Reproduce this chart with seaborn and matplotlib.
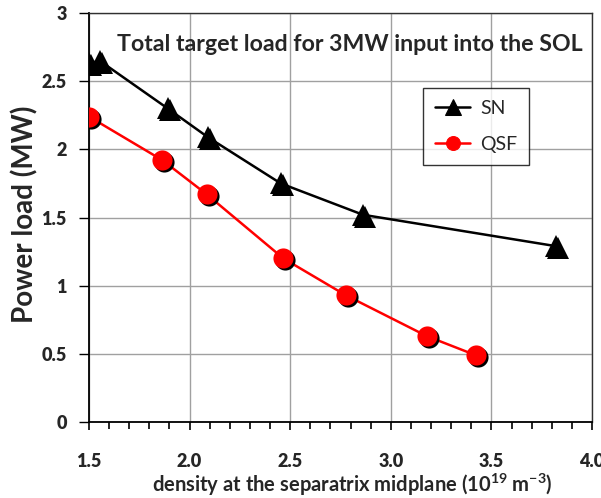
import matplotlib
matplotlib.use("Agg")
import matplotlib.pyplot as plt
import matplotlib.transforms as mtransforms
from matplotlib.ticker import MultipleLocator
import seaborn as sns
import pandas as pd

# Separatrix midplane density (1e19 m^-3) and total target power load (MW)
sn_density = [1.50, 1.553, 1.891, 2.090, 2.453, 2.862, 3.82]
sn_load = [2.63, 2.65, 2.30, 2.09, 1.75, 1.52, 1.29]
qsf_density = [1.50, 1.865, 2.085, 2.466, 2.776, 3.179, 3.422]
qsf_load = [2.24, 1.92, 1.67, 1.20, 0.93, 0.63, 0.49]

x_ticks = [1.5, 2.0, 2.5, 3.0, 3.5, 4.0]
y_ticks = [0, 0.5, 1, 1.5, 2, 2.5, 3]
y_tick_labels = ["0", "0.5", "1", "1.5", "2", "2.5", "3"]

sns.set_theme(style="white")
plt.rcParams["font.family"] = ["Lato", "DejaVu Sans"]
plt.rcParams["mathtext.default"] = "regular"

fig = plt.figure(figsize=(6.01, 4.98), dpi=100)
ax = fig.add_axes([0.1481, 0.1526, 0.8369, 0.8213])

shadow = mtransforms.offset_copy(ax.transData, fig=fig, x=2, y=-2, units="dots")

series = [
    ("SN", sn_density, sn_load, "black", "^", 16),
    ("QSF", qsf_density, qsf_load, "#ff0000", "o", 14.5),
]
for name, xs, ys, color, marker, ms in series:
    df = pd.DataFrame({"density": xs, "load": ys})
    sns.lineplot(data=df, x="density", y="load", ax=ax, color=color, lw=1.8,
                 estimator=None, sort=False, label=name, zorder=3)
    # marker drop shadows, then the markers themselves
    ax.plot(xs, ys, ls="none", marker=marker, ms=ms, color="black",
            mec="black", mew=0, transform=shadow, zorder=4)
    ax.plot(xs, ys, ls="none", marker=marker, ms=ms, color=color,
            mec=color, mew=0, zorder=5)

ax.set_xlim(1.5, 4.0)
ax.set_ylim(0, 3)
ax.set_xticks(x_ticks)
ax.set_xticklabels([f"{v:.1f}" for v in x_ticks], fontweight="heavy", fontsize=13)
ax.set_yticks(y_ticks)
ax.set_yticklabels(y_tick_labels, fontweight="heavy", fontsize=13)
ax.xaxis.set_minor_locator(MultipleLocator(0.1))

ax.grid(True, which="major", color="#a0a0a0", lw=1)
for side in ["left", "bottom"]:
    ax.spines[side].set_color("black")
    ax.spines[side].set_linewidth(1.3)
for side in ["top", "right"]:
    ax.spines[side].set_color("#303030")
    ax.spines[side].set_linewidth(1.0)

ax.tick_params(axis="x", which="major", direction="out", length=6, width=1.2,
               color="black", bottom=True, pad=16)
ax.tick_params(axis="x", which="minor", direction="out", length=5, width=1.2,
               color="black", bottom=True)
ax.tick_params(axis="y", which="major", direction="out", length=7, width=1.0,
               color="black", left=True, pad=9)

ax.set_xlabel(r"density at the separatrix midplane (10$^{19}$ m$^{-3}$)",
              fontweight="bold", fontsize=14.5)
ax.xaxis.set_label_coords(0.523, -0.122)
ax.set_ylabel("Power load (MW)", fontweight="bold", fontsize=20)
ax.yaxis.set_label_coords(-0.101, 0.508)

ax.text(0.981, 0.924, "Total target load for 3MW input into the SOL",
        transform=ax.transAxes, ha="right", va="center",
        fontweight="bold", fontsize=16.7)

# legend with line + marker handles
handles, labels = ax.get_legend_handles_labels()
for h, (_, _, _, color, marker, _) in zip(handles, series):
    h.set_marker(marker)
    h.set_markersize(11 if marker == "^" else 10)
    h.set_markerfacecolor(color)
    h.set_markeredgecolor(color)
leg = ax.legend(handles, labels, loc="upper left",
                bbox_to_anchor=(0.665, 0.817),
                frameon=True, fancybox=False, edgecolor="black", fontsize=14,
                handlelength=1.8, labelspacing=1.0, borderpad=0.6,
                handletextpad=0.5, borderaxespad=0)
leg.get_frame().set_linewidth(1.0)

fig.savefig("out.png", dpi=100)
